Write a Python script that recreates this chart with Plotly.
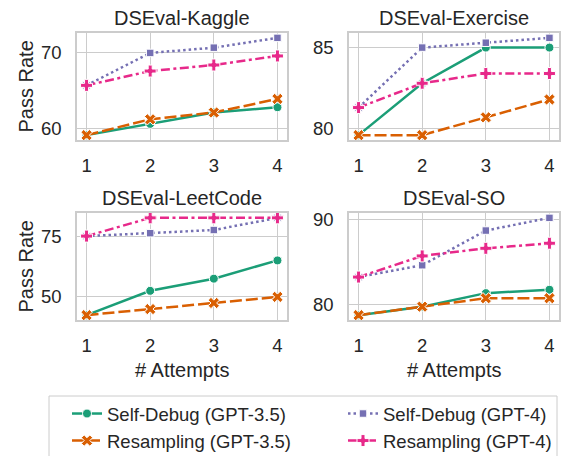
import plotly.graph_objects as go

attempts = [1, 2, 3, 4]
datasets = ["DSEval-Kaggle", "DSEval-Exercise", "DSEval-LeetCode", "DSEval-SO"]
series_names = ["Self-Debug (GPT-3.5)", "Resampling (GPT-3.5)", "Self-Debug (GPT-4)", "Resampling (GPT-4)"]

# Pass rates per dataset, per series (order as series_names)
kaggle_sd35 = [59.1, 60.6, 62.1, 62.8]
kaggle_rs35 = [59.1, 61.2, 62.1, 63.9]
kaggle_sd4 = [65.7, 70.0, 70.7, 72.0]
kaggle_rs4 = [65.7, 67.6, 68.4, 69.6]

exercise_sd35 = [79.6, 82.8, 85.0, 85.0]
exercise_rs35 = [79.6, 79.6, 80.7, 81.8]
exercise_sd4 = [81.3, 85.0, 85.3, 85.6]
exercise_rs4 = [81.3, 82.8, 83.4, 83.4]

leetcode_sd35 = [42.5, 52.5, 57.5, 65.0]
leetcode_rs35 = [42.5, 45.0, 47.5, 50.0]
leetcode_sd4 = [75.0, 76.2, 77.5, 82.5]
leetcode_rs4 = [75.0, 82.5, 82.5, 82.5]

so_sd35 = [78.7, 79.7, 81.3, 81.7]
so_rs35 = [78.7, 79.7, 80.7, 80.7]
so_sd4 = [83.2, 84.6, 88.7, 90.2]
so_rs4 = [83.2, 85.7, 86.6, 87.2]

kaggle_ticks = [60, 70]
exercise_ticks = [80, 85]
leetcode_ticks = [50, 75]
so_ticks = [80, 90]

panel_data = [
    [kaggle_sd35, kaggle_rs35, kaggle_sd4, kaggle_rs4],
    [exercise_sd35, exercise_rs35, exercise_sd4, exercise_rs4],
    [leetcode_sd35, leetcode_rs35, leetcode_sd4, leetcode_rs4],
    [so_sd35, so_rs35, so_sd4, so_rs4],
]
panel_ticks = [kaggle_ticks, exercise_ticks, leetcode_ticks, so_ticks]

W, H = 576, 456
FONT = "Liberation Sans, Arial, sans-serif"
TXT = "#262626"
GRID = "#cccccc"

colors = ["#1b9e77", "#d95f02", "#7570b3", "#e7298a"]
dashes = ["solid", "12px,4px", "2.5px,3px", "9px,3.5px,3px,3.5px"]
symbols = ["circle", "x", "square", "cross"]
msizes = [9, 10, 7.5, 10]
ranks = [1, 3, 2, 4]

# panel boxes in pixels: (left, right, top, bottom)
col_px = [(77, 287), (349, 559)]
row_px = [(33, 140), (213, 320)]

fig = go.Figure()
layout = {}
annotations = []
for p in range(4):
    r, c = divmod(p, 2)
    ax = "" if p == 0 else str(p + 1)
    xd = [col_px[c][0] / W, col_px[c][1] / W]
    yd = [1 - row_px[r][1] / H, 1 - row_px[r][0] / H]
    vals_all = [v for s in panel_data[p] for v in s]
    lo, hi = min(vals_all), max(vals_all)
    pad = 0.05 * (hi - lo)
    for i in range(4):
        fig.add_trace(go.Scatter(
            x=attempts, y=panel_data[p][i], name=series_names[i],
            xaxis="x" + ax, yaxis="y" + ax, mode="lines+markers",
            line=dict(color=colors[i], width=2.5, dash=dashes[i]),
            marker=dict(symbol=symbols[i], size=msizes[i], color=colors[i],
                        line=dict(color="white", width=1)),
            showlegend=(p == 0), legendrank=ranks[i],
        ))
    common = dict(showgrid=True, gridcolor=GRID, gridwidth=1, zeroline=False,
                  showline=True, mirror=True, linecolor=GRID, linewidth=1.5,
                  ticks="", tickfont=dict(family=FONT, size=18.5, color=TXT),
                  automargin=False)
    layout["xaxis" + ax] = dict(domain=xd, anchor="y" + ax, range=[0.85, 4.15],
                                tickvals=attempts, ticklabelstandoff=8, **common)
    layout["yaxis" + ax] = dict(domain=yd, anchor="x" + ax, range=[lo - pad, hi + pad],
                                tickvals=panel_ticks[p], ticklabelstandoff=10, **common)
    annotations.append(dict(text=datasets[p], x=(xd[0] + xd[1]) / 2, y=yd[1],
                            xref="paper", yref="paper", xanchor="center", yanchor="bottom",
                            yshift=2, showarrow=False,
                            font=dict(family=FONT, size=20, color=TXT)))
    if c == 0:
        annotations.append(dict(text="Pass Rate", x=25 / W, y=(yd[0] + yd[1]) / 2,
                                xref="paper", yref="paper", xanchor="center", yanchor="middle",
                                textangle=-90, showarrow=False,
                                font=dict(family=FONT, size=20, color=TXT)))
    if r == 1:
        annotations.append(dict(text="# Attempts", x=(xd[0] + xd[1]) / 2, y=1 - 370 / H,
                                xref="paper", yref="paper", xanchor="center", yanchor="middle",
                                showarrow=False,
                                font=dict(family=FONT, size=20, color=TXT)))

fig.update_layout(
    width=W, height=H,
    margin=dict(l=0, r=0, t=0, b=0, autoexpand=False),
    paper_bgcolor="white", plot_bgcolor="white",
    font=dict(family=FONT, color=TXT),
    annotations=annotations,
    shapes=[dict(type="rect", xref="paper", yref="paper",
                 x0=49 / W, x1=557 / W, y0=-0.05, y1=1 - 396 / H,
                 line=dict(color=GRID, width=1), fillcolor="rgba(0,0,0,0)")],
    legend=dict(orientation="h", x=67 / W, y=1 - 395 / H, xanchor="left", yanchor="top",
                borderwidth=0, bgcolor="rgba(0,0,0,0)",
                font=dict(family=FONT, size=18.5, color=TXT),
                entrywidth=231, entrywidthmode="pixels", traceorder="normal"),
    **layout,
)

fig.write_html("out.html", config={"displayModeBar": False},
               post_script="document.body.style.margin='0px';")
